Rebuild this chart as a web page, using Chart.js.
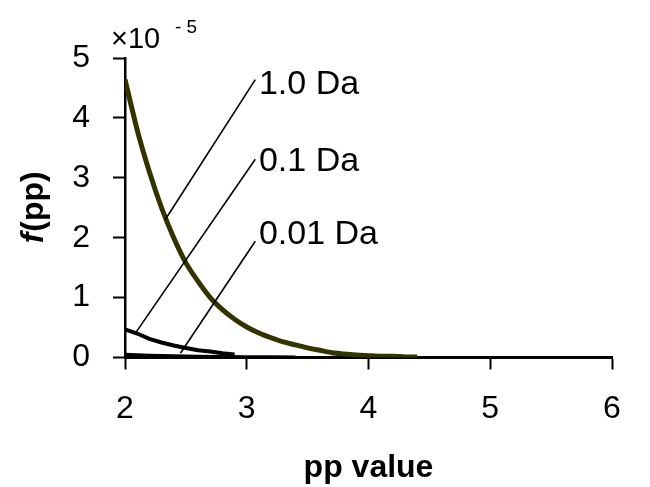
<!DOCTYPE html>
<html>
<head>
<meta charset="utf-8">
<script src="https://cdn.jsdelivr.net/npm/chart.js@4/dist/chart.umd.min.js"></script>
<style>
  html, body { margin: 0; padding: 0; background: #ffffff; }
  #wrap { width: 650px; height: 487px; }
</style>
</head>
<body>
<div id="wrap"><canvas id="c" width="650" height="487"></canvas></div>
<script>
// ---- data (values in units of 1e-5) ----
const ppValues10 = [2.0, 2.1, 2.2, 2.3, 2.4, 2.5, 2.6, 2.7, 2.8, 2.9, 3.0, 3.1, 3.2, 3.3, 3.4, 3.5, 3.6, 3.7, 3.8, 3.9, 4.0, 4.1, 4.2, 4.3, 4.4];
const f10 = [4.64, 3.80, 3.10, 2.50, 2.00, 1.58, 1.27, 1.00, 0.80, 0.64, 0.51, 0.41, 0.33, 0.26, 0.21, 0.16, 0.12, 0.08, 0.06, 0.04, 0.03, 0.02, 0.02, 0.01, 0.01];

const ppValues01 = [2.0, 2.1, 2.2, 2.3, 2.4, 2.5, 2.6, 2.7, 2.8, 2.9];
const f01 = [0.47, 0.40, 0.31, 0.25, 0.20, 0.16, 0.12, 0.10, 0.07, 0.05];

const ppValues001 = [2.0, 2.2, 2.4, 2.6, 2.8, 3.0, 3.2, 3.4];
const f001 = [0.046, 0.031, 0.020, 0.013, 0.008, 0.005, 0.003, 0.002];

const seriesNames = ['1.0 Da', '0.1 Da', '0.01 Da'];
const xTicks = [2, 3, 4, 5, 6];
const yTicks = [0, 1, 2, 3, 4, 5];

// leader-line annotations (data coordinates): [x1, y1, x2, y2]
const leaders = [
  [2.33, 2.30, 3.07, 4.64],
  [2.09, 0.42, 3.07, 3.31],
  [2.455, 0.07, 3.07, 1.94]
];
const labelAnchors = [[3.10, 4.56], [3.10, 3.27], [3.10, 2.05]];

const FONT = "'Liberation Sans', Arial, sans-serif";

function pts(xs, ys) { return xs.map((x, i) => ({ x: x, y: ys[i] })); }

const datasets = [];
leaders.forEach((l) => {
  datasets.push({
    data: [{ x: l[0], y: l[1] }, { x: l[2], y: l[3] }],
    borderColor: '#000000', borderWidth: 1.6, pointRadius: 0, showLine: true, fill: false, tension: 0
  });
});
datasets.push({ label: seriesNames[2], data: pts(ppValues001, f001), borderColor: '#000000', borderWidth: 4, pointRadius: 0, showLine: true, tension: 0 });
datasets.push({ label: seriesNames[1], data: pts(ppValues01, f01), borderColor: '#000000', borderWidth: 4, pointRadius: 0, showLine: true, tension: 0 });
datasets.push({ label: seriesNames[0], data: pts(ppValues10, f10), borderColor: '#333300', borderWidth: 5, pointRadius: 0, showLine: true, tension: 0.2 });

const textPlugin = {
  id: 'texts',
  afterDraw(chart) {
    const ctx = chart.ctx;
    const xs = chart.scales.x, ys = chart.scales.y;
    ctx.save();
    ctx.fillStyle = '#000';
    // series labels
    ctx.font = '34px ' + FONT;
    ctx.textAlign = 'left';
    ctx.textBaseline = 'middle';
    labelAnchors.forEach((a, i) => {
      ctx.fillText(seriesNames[i], xs.getPixelForValue(a[0]), ys.getPixelForValue(a[1]));
    });
    // multiplier
    const x0 = xs.getPixelForValue(xTicks[0]);
    const yTop = ys.getPixelForValue(yTicks[yTicks.length - 1]);
    ctx.font = '29px ' + FONT;
    ctx.textBaseline = 'alphabetic';
    ctx.fillText('\u00d710', x0 - 14, yTop - 10);
    ctx.font = '19px ' + FONT;
    ctx.fillText('- 5', x0 + 50, yTop - 25);
    // y title
    const cy = (chart.chartArea.top + chart.chartArea.bottom) / 2;
    ctx.translate(34, cy);
    ctx.rotate(-Math.PI / 2);
    ctx.textBaseline = 'middle';
    const fItal = 'italic bold 32px ' + FONT;
    const fBold = 'bold 32px ' + FONT;
    ctx.font = fItal; const w1 = ctx.measureText('f').width;
    ctx.font = fBold; const w2 = ctx.measureText('(pp)').width;
    const start = -(w1 + w2) / 2;
    ctx.font = fItal; ctx.fillText('f', start, 0);
    ctx.font = fBold; ctx.fillText('(pp)', start + w1 + 1, 0);
    ctx.restore();
  }
};

new Chart(document.getElementById('c'), {
  type: 'scatter',
  data: { datasets: datasets },
  options: {
    responsive: false,
    animation: false,
    devicePixelRatio: 1,
    layout: { padding: { top: 58, right: 38, left: 0, bottom: 0 } },
    plugins: { legend: { display: false }, tooltip: { enabled: false } },
    scales: {
      x: {
        type: 'linear', min: 2, max: 6,
        afterFit(s) { s.height = 129.5; },
        afterBuildTicks(s) { s.ticks = xTicks.map(v => ({ value: v })); },
        grid: { drawOnChartArea: false, drawTicks: true, tickLength: 12, tickColor: '#000', tickWidth: 2 },
        border: { display: true, color: '#000', width: 3 },
        ticks: { color: '#000', font: { family: FONT, size: 32 }, padding: 20, maxRotation: 0 },
        title: { display: true, text: 'pp value', color: '#000', font: { family: FONT, size: 32, weight: 'bold' }, padding: { top: 0, bottom: 0 } }
      },
      y: {
        type: 'linear', min: 0, max: 5,
        afterFit(s) { s.width = 125; },
        afterBuildTicks(s) { s.ticks = yTicks.map(v => ({ value: v })); },
        grid: { drawOnChartArea: false, drawTicks: true, tickLength: 12, tickColor: '#000', tickWidth: 2 },
        border: { display: true, color: '#000', width: 2.5 },
        ticks: { color: '#000', font: { family: FONT, size: 32 }, padding: 23 }
      }
    }
  },
  plugins: [textPlugin]
});
</script>
</body>
</html>
